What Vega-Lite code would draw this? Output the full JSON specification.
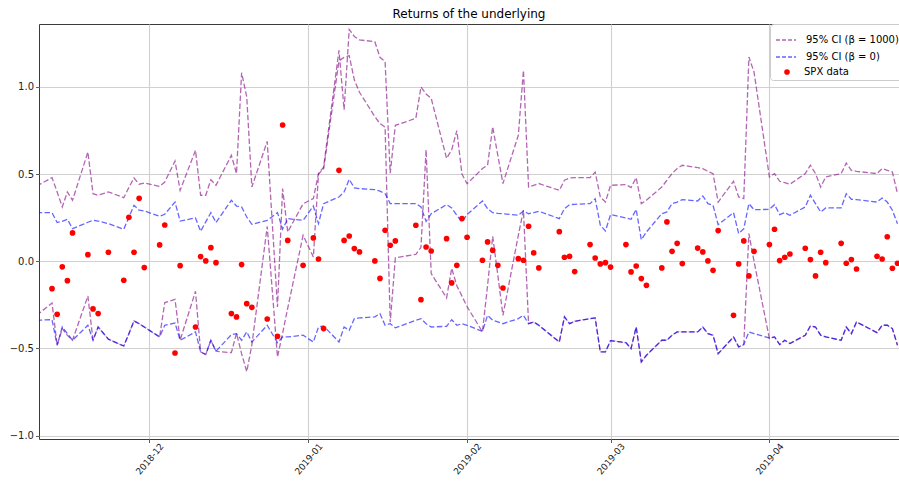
{
  "$schema": "https://vega.github.io/schema/vega-lite/v6.json",
  "autosize": {"type": "none"},
  "width": 860,
  "height": 415,
  "padding": {"left": 39, "top": 24, "right": 0, "bottom": 42},
  "background": "white",
  "title": {"text": "Returns of the underlying", "font": "DejaVu Sans", "fontSize": 12, "fontWeight": "normal", "color": "black", "offset": 3},
  "config": {
    "font": "DejaVu Sans",
    "view": {"stroke": "#3a3a3a", "strokeWidth": 1},
    "axis": {"domain": false, "grid": true, "gridColor": "#d0d0d0", "gridWidth": 1.1, "tickColor": "#333333", "tickSize": 3.5, "tickWidth": 0.8, "labelColor": "#222222", "labelFontSize": 10, "labelFont": "DejaVu Sans"}
  },
  "data": {"values": [
    {"date": "2018-11-09", "ph": 0.432, "pl": -0.310, "bh": 0.279, "bl": -0.338},
    {"date": "2018-11-12", "ph": 0.480, "pl": -0.239, "bh": 0.279, "bl": -0.335, "spx": -0.157},
    {"date": "2018-11-13", "ph": 0.398, "pl": -0.482, "bh": 0.222, "bl": -0.482, "spx": -0.304},
    {"date": "2018-11-14", "ph": 0.312, "pl": -0.386, "bh": 0.229, "bl": -0.377, "spx": -0.032},
    {"date": "2018-11-15", "ph": 0.398, "pl": -0.425, "bh": 0.241, "bl": -0.415, "spx": -0.111},
    {"date": "2018-11-16", "ph": 0.350, "pl": -0.453, "bh": 0.187, "bl": -0.453, "spx": 0.163},
    {"date": "2018-11-19", "ph": 0.627, "pl": -0.199, "bh": 0.224, "bl": -0.367, "spx": 0.038},
    {"date": "2018-11-20", "ph": 0.388, "pl": -0.453, "bh": 0.235, "bl": -0.453, "spx": -0.273},
    {"date": "2018-11-21", "ph": 0.379, "pl": -0.377, "bh": 0.231, "bl": -0.377, "spx": -0.300},
    {"date": "2018-11-23", "ph": 0.398, "pl": -0.447, "bh": 0.216, "bl": -0.447, "spx": 0.052},
    {"date": "2018-11-26", "ph": 0.365, "pl": -0.486, "bh": 0.184, "bl": -0.486, "spx": -0.109},
    {"date": "2018-11-27", "ph": 0.424, "pl": -0.415, "bh": 0.252, "bl": -0.415, "spx": 0.252},
    {"date": "2018-11-28", "ph": 0.478, "pl": -0.342, "bh": 0.321, "bl": -0.342, "spx": 0.052},
    {"date": "2018-11-29", "ph": 0.442, "pl": -0.358, "bh": 0.293, "bl": -0.358, "spx": 0.361},
    {"date": "2018-11-30", "ph": 0.449, "pl": -0.377, "bh": 0.289, "bl": -0.377, "spx": -0.036},
    {"date": "2018-12-03", "ph": 0.430, "pl": -0.434, "bh": 0.258, "bl": -0.434, "spx": 0.094},
    {"date": "2018-12-04", "ph": 0.455, "pl": -0.237, "bh": 0.270, "bl": -0.367, "spx": 0.208},
    {"date": "2018-12-06", "ph": 0.575, "pl": -0.218, "bh": 0.340, "bl": -0.354, "spx": -0.526},
    {"date": "2018-12-07", "ph": 0.407, "pl": -0.453, "bh": 0.231, "bl": -0.453, "spx": -0.025},
    {"date": "2018-12-10", "ph": 0.637, "pl": -0.172, "bh": 0.249, "bl": -0.405, "spx": -0.377},
    {"date": "2018-12-11", "ph": 0.379, "pl": -0.520, "bh": 0.172, "bl": -0.520, "spx": 0.027},
    {"date": "2018-12-12", "ph": 0.379, "pl": -0.535, "bh": 0.226, "bl": -0.535, "spx": 0.002},
    {"date": "2018-12-13", "ph": 0.468, "pl": -0.453, "bh": 0.279, "bl": -0.453, "spx": 0.078},
    {"date": "2018-12-14", "ph": 0.436, "pl": -0.516, "bh": 0.222, "bl": -0.516, "spx": -0.008},
    {"date": "2018-12-17", "ph": 0.608, "pl": -0.524, "bh": 0.350, "bl": -0.421, "spx": -0.300},
    {"date": "2018-12-18", "ph": 0.503, "pl": -0.413, "bh": 0.317, "bl": -0.415, "spx": -0.319},
    {"date": "2018-12-19", "ph": 1.082, "pl": -0.530, "bh": 0.312, "bl": -0.453, "spx": -0.019},
    {"date": "2018-12-20", "ph": 0.943, "pl": -0.633, "bh": 0.254, "bl": -0.405, "spx": -0.243},
    {"date": "2018-12-21", "ph": 0.426, "pl": -0.480, "bh": 0.212, "bl": -0.463, "spx": -0.264},
    {"date": "2018-12-24", "ph": 0.688, "pl": 0.200, "bh": 0.235, "bl": -0.367, "spx": -0.331},
    {"date": "2018-12-26", "ph": -0.262, "pl": -0.549, "bh": 0.279, "bl": -0.467, "spx": -0.430},
    {"date": "2018-12-27", "ph": 0.417, "pl": -0.413, "bh": 0.184, "bl": -0.434, "spx": 0.782},
    {"date": "2018-12-28", "ph": 0.168, "pl": -0.268, "bh": 0.245, "bl": -0.434, "spx": 0.120},
    {"date": "2018-12-31", "ph": 0.330, "pl": 0.149, "bh": 0.235, "bl": -0.424, "spx": -0.023},
    {"date": "2019-01-02", "ph": 0.360, "pl": 0.025, "bh": 0.317, "bl": -0.463, "spx": 0.134},
    {"date": "2019-01-03", "ph": 0.503, "pl": 0.500, "bh": 0.216, "bl": -0.377, "spx": 0.013},
    {"date": "2019-01-04", "ph": 0.540, "pl": 0.530, "bh": 0.331, "bl": -0.371, "spx": -0.386},
    {"date": "2019-01-07", "ph": 1.210, "pl": 1.150, "bh": 0.369, "bl": -0.463, "spx": 0.522},
    {"date": "2019-01-08", "ph": 0.870, "pl": 1.170, "bh": 0.398, "bl": -0.377, "spx": 0.120},
    {"date": "2019-01-09", "ph": 1.330, "pl": 1.180, "bh": 0.470, "bl": -0.396, "spx": 0.145},
    {"date": "2019-01-10", "ph": 1.290, "pl": 1.040, "bh": 0.421, "bl": -0.329, "spx": 0.073},
    {"date": "2019-01-11", "ph": 1.270, "pl": 0.970, "bh": 0.417, "bl": -0.325, "spx": 0.054},
    {"date": "2019-01-14", "ph": 1.260, "pl": 0.830, "bh": 0.411, "bl": -0.319, "spx": 0.002},
    {"date": "2019-01-15", "ph": 1.170, "pl": 0.790, "bh": 0.402, "bl": -0.300, "spx": -0.098},
    {"date": "2019-01-16", "ph": 1.145, "pl": 0.770, "bh": 0.388, "bl": -0.367, "spx": 0.178},
    {"date": "2019-01-17", "ph": 0.505, "pl": -0.350, "bh": 0.331, "bl": -0.358, "spx": 0.092},
    {"date": "2019-01-18", "ph": 0.780, "pl": 0.020, "bh": 0.331, "bl": -0.382, "spx": 0.117},
    {"date": "2019-01-22", "ph": 0.820, "pl": 0.040, "bh": 0.331, "bl": -0.338, "spx": 0.207},
    {"date": "2019-01-23", "ph": 1.000, "pl": 0.080, "bh": 0.312, "bl": -0.329, "spx": -0.220},
    {"date": "2019-01-24", "ph": 0.960, "pl": 0.640, "bh": 0.229, "bl": -0.358, "spx": 0.082},
    {"date": "2019-01-25", "ph": 0.935, "pl": -0.070, "bh": 0.273, "bl": -0.377, "spx": 0.059},
    {"date": "2019-01-28", "ph": 0.590, "pl": -0.210, "bh": 0.325, "bl": -0.373, "spx": 0.130},
    {"date": "2019-01-29", "ph": 0.640, "pl": -0.040, "bh": 0.306, "bl": -0.335, "spx": -0.124},
    {"date": "2019-01-30", "ph": 0.750, "pl": -0.140, "bh": 0.264, "bl": -0.367, "spx": -0.023},
    {"date": "2019-01-31", "ph": 0.500, "pl": -0.200, "bh": 0.226, "bl": -0.358, "spx": 0.245},
    {"date": "2019-02-01", "ph": 0.445, "pl": -0.260, "bh": 0.268, "bl": -0.367, "spx": 0.138},
    {"date": "2019-02-04", "ph": 0.532, "pl": -0.405, "bh": 0.346, "bl": -0.402, "spx": 0.006},
    {"date": "2019-02-05", "ph": 0.551, "pl": -0.138, "bh": 0.302, "bl": -0.310, "spx": 0.111},
    {"date": "2019-02-06", "ph": 0.771, "pl": 0.143, "bh": 0.279, "bl": -0.338, "spx": 0.063},
    {"date": "2019-02-07", "ph": 0.608, "pl": -0.080, "bh": 0.275, "bl": -0.348, "spx": -0.023},
    {"date": "2019-02-08", "ph": 0.446, "pl": -0.310, "bh": 0.273, "bl": -0.358, "spx": -0.153},
    {"date": "2019-02-11", "ph": 0.723, "pl": 0.149, "bh": 0.264, "bl": -0.329, "spx": 0.015},
    {"date": "2019-02-12", "ph": 1.096, "pl": 0.293, "bh": 0.289, "bl": -0.310, "spx": 0.006},
    {"date": "2019-02-13", "ph": 0.426, "pl": -0.358, "bh": 0.273, "bl": -0.358, "spx": 0.201},
    {"date": "2019-02-14", "ph": 0.436, "pl": -0.348, "bh": 0.279, "bl": -0.348, "spx": 0.048},
    {"date": "2019-02-15", "ph": 0.446, "pl": -0.367, "bh": 0.287, "bl": -0.367, "spx": -0.038},
    {"date": "2019-02-19", "ph": 0.407, "pl": -0.463, "bh": 0.245, "bl": -0.463, "spx": 0.170},
    {"date": "2019-02-20", "ph": 0.465, "pl": -0.319, "bh": 0.302, "bl": -0.319, "spx": 0.023},
    {"date": "2019-02-21", "ph": 0.478, "pl": -0.358, "bh": 0.325, "bl": -0.358, "spx": 0.029},
    {"date": "2019-02-22", "ph": 0.480, "pl": -0.344, "bh": 0.327, "bl": -0.344, "spx": -0.059},
    {"date": "2019-02-25", "ph": 0.480, "pl": -0.329, "bh": 0.331, "bl": -0.329, "spx": 0.096},
    {"date": "2019-02-26", "ph": 0.512, "pl": -0.325, "bh": 0.359, "bl": -0.325, "spx": 0.019},
    {"date": "2019-02-27", "ph": 0.369, "pl": -0.520, "bh": 0.207, "bl": -0.520, "spx": -0.015},
    {"date": "2019-02-28", "ph": 0.340, "pl": -0.520, "bh": 0.174, "bl": -0.520, "spx": -0.008},
    {"date": "2019-03-01", "ph": 0.436, "pl": -0.455, "bh": 0.268, "bl": -0.455, "spx": -0.033},
    {"date": "2019-03-04", "ph": 0.440, "pl": -0.467, "bh": 0.249, "bl": -0.467, "spx": 0.096},
    {"date": "2019-03-05", "ph": 0.423, "pl": -0.501, "bh": 0.241, "bl": -0.501, "spx": -0.061},
    {"date": "2019-03-06", "ph": 0.480, "pl": -0.377, "bh": 0.298, "bl": -0.377, "spx": -0.027},
    {"date": "2019-03-07", "ph": 0.331, "pl": -0.577, "bh": 0.124, "bl": -0.577, "spx": -0.099},
    {"date": "2019-03-08", "ph": 0.350, "pl": -0.539, "bh": 0.168, "bl": -0.539, "spx": -0.138},
    {"date": "2019-03-11", "ph": 0.426, "pl": -0.453, "bh": 0.273, "bl": -0.453, "spx": -0.038},
    {"date": "2019-03-12", "ph": 0.465, "pl": -0.453, "bh": 0.283, "bl": -0.453, "spx": 0.226},
    {"date": "2019-03-13", "ph": 0.503, "pl": -0.424, "bh": 0.331, "bl": -0.424, "spx": 0.057},
    {"date": "2019-03-14", "ph": 0.532, "pl": -0.405, "bh": 0.340, "bl": -0.405, "spx": 0.103},
    {"date": "2019-03-15", "ph": 0.551, "pl": -0.405, "bh": 0.354, "bl": -0.405, "spx": -0.013},
    {"date": "2019-03-18", "ph": 0.537, "pl": -0.405, "bh": 0.346, "bl": -0.405, "spx": 0.076},
    {"date": "2019-03-19", "ph": 0.532, "pl": -0.377, "bh": 0.375, "bl": -0.377, "spx": 0.054},
    {"date": "2019-03-20", "ph": 0.516, "pl": -0.415, "bh": 0.331, "bl": -0.415, "spx": 0.002},
    {"date": "2019-03-21", "ph": 0.503, "pl": -0.424, "bh": 0.321, "bl": -0.424, "spx": -0.052},
    {"date": "2019-03-22", "ph": 0.340, "pl": -0.530, "bh": 0.210, "bl": -0.530, "spx": 0.176},
    {"date": "2019-03-25", "ph": 0.459, "pl": -0.434, "bh": 0.279, "bl": -0.434, "spx": -0.310},
    {"date": "2019-03-26", "ph": 0.369, "pl": -0.491, "bh": 0.159, "bl": -0.491, "spx": -0.015},
    {"date": "2019-03-27", "ph": 0.359, "pl": -0.478, "bh": 0.187, "bl": -0.478, "spx": 0.117},
    {"date": "2019-03-28", "ph": 1.172, "pl": 0.159, "bh": 0.331, "bl": -0.405, "spx": -0.084},
    {"date": "2019-03-29", "ph": 1.086, "pl": 0.000, "bh": 0.296, "bl": -0.415, "spx": 0.057},
    {"date": "2019-04-01", "ph": 0.484, "pl": -0.444, "bh": 0.298, "bl": -0.440, "spx": 0.096},
    {"date": "2019-04-02", "ph": 0.503, "pl": -0.434, "bh": 0.325, "bl": -0.434, "spx": 0.184},
    {"date": "2019-04-03", "ph": 0.459, "pl": -0.478, "bh": 0.268, "bl": -0.478, "spx": 0.004},
    {"date": "2019-04-04", "ph": 0.451, "pl": -0.453, "bh": 0.279, "bl": -0.453, "spx": 0.023},
    {"date": "2019-04-05", "ph": 0.442, "pl": -0.472, "bh": 0.264, "bl": -0.472, "spx": 0.042},
    {"date": "2019-04-08", "ph": 0.503, "pl": -0.424, "bh": 0.312, "bl": -0.424, "spx": 0.075},
    {"date": "2019-04-09", "ph": 0.551, "pl": -0.371, "bh": 0.379, "bl": -0.371, "spx": 0.010},
    {"date": "2019-04-10", "ph": 0.503, "pl": -0.377, "bh": 0.331, "bl": -0.377, "spx": -0.084},
    {"date": "2019-04-11", "ph": 0.426, "pl": -0.424, "bh": 0.283, "bl": -0.424, "spx": 0.052},
    {"date": "2019-04-12", "ph": 0.484, "pl": -0.434, "bh": 0.306, "bl": -0.434, "spx": -0.008},
    {"date": "2019-04-15", "ph": 0.503, "pl": -0.453, "bh": 0.306, "bl": -0.453, "spx": 0.103},
    {"date": "2019-04-16", "ph": 0.564, "pl": -0.377, "bh": 0.388, "bl": -0.377, "spx": -0.011},
    {"date": "2019-04-17", "ph": 0.522, "pl": -0.415, "bh": 0.356, "bl": -0.415, "spx": 0.010},
    {"date": "2019-04-18", "ph": 0.516, "pl": -0.348, "bh": 0.354, "bl": -0.348, "spx": -0.044},
    {"date": "2019-04-22", "ph": 0.503, "pl": -0.409, "bh": 0.340, "bl": -0.409, "spx": 0.029},
    {"date": "2019-04-23", "ph": 0.532, "pl": -0.367, "bh": 0.363, "bl": -0.367, "spx": 0.013},
    {"date": "2019-04-24", "ph": 0.522, "pl": -0.367, "bh": 0.340, "bl": -0.367, "spx": 0.141},
    {"date": "2019-04-25", "ph": 0.512, "pl": -0.386, "bh": 0.293, "bl": -0.386, "spx": -0.040},
    {"date": "2019-04-26", "ph": 0.388, "pl": -0.482, "bh": 0.216, "bl": -0.482, "spx": -0.011}
  ]},
  "encoding": {
    "x": {
      "field": "date", "type": "temporal",
      "scale": {"type": "utc", "domain": [
        {"year": 2018, "month": 11, "date": 9, "hours": 11, "utc": true},
        {"year": 2019, "month": 4, "date": 26, "hours": 7, "utc": true}
      ]},
      "axis": {
        "title": null, "format": "%Y-%m",
        "values": [
          {"year": 2018, "month": 12, "date": 1, "utc": true},
          {"year": 2019, "month": 1, "date": 1, "utc": true},
          {"year": 2019, "month": 2, "date": 1, "utc": true},
          {"year": 2019, "month": 3, "date": 1, "utc": true},
          {"year": 2019, "month": 4, "date": 1, "utc": true}
        ],
        "labelAngle": -50, "labelAlign": "center", "labelBaseline": "middle", "labelPadding": 16, "labelFontSize": 9
      }
    }
  },
  "layer": [
    {
      "mark": {"type": "line", "strokeDash": [5.5, 2.4], "strokeWidth": 1.3, "opacity": 0.6, "clip": true},
      "encoding": {
        "y": {"field": "ph", "type": "quantitative",
          "scale": {"domain": [-1.0195, 1.3614], "nice": false, "zero": false},
          "axis": {"title": null, "values": [-1, -0.5, 0, 0.5, 1], "format": ".1f", "labelPadding": 2}},
        "color": {"datum": "95% CI (β = 1000)", "type": "nominal",
          "scale": {"domain": ["95% CI (β = 1000)", "95% CI (β = 0)"], "range": ["purple", "blue"]},
          "legend": {
            "title": " ", "titleOrient": "bottom", "titleFontSize": 10, "titlePadding": 3,
            "orient": "none", "legendX": 731, "legendY": 0,
            "fillColor": "rgba(255,255,255,0.8)", "strokeColor": "#cccccc", "cornerRadius": 3, "padding": 5,
            "labelFont": "DejaVu Sans", "labelFontSize": 10, "labelColor": "black", "labelOffset": 9,
            "symbolType": "stroke", "symbolSize": 400, "symbolStrokeWidth": 1.3, "symbolDash": [4, 2], "rowPadding": 1
          }}
      }
    },
    {
      "mark": {"type": "line", "strokeDash": [5.5, 2.4], "strokeWidth": 1.3, "opacity": 0.6, "clip": true},
      "encoding": {
        "y": {"field": "pl", "type": "quantitative"},
        "color": {"datum": "95% CI (β = 1000)", "type": "nominal"}
      }
    },
    {
      "mark": {"type": "line", "strokeDash": [5.5, 2.4], "strokeWidth": 1.3, "opacity": 0.6, "clip": true},
      "encoding": {
        "y": {"field": "bh", "type": "quantitative"},
        "color": {"datum": "95% CI (β = 0)", "type": "nominal"}
      }
    },
    {
      "mark": {"type": "line", "strokeDash": [5.5, 2.4], "strokeWidth": 1.3, "opacity": 0.6, "clip": true},
      "encoding": {
        "y": {"field": "bl", "type": "quantitative"},
        "color": {"datum": "95% CI (β = 0)", "type": "nominal"}
      }
    },
    {
      "mark": {"type": "circle", "size": 32, "opacity": 1, "clip": true},
      "encoding": {
        "y": {"field": "spx", "type": "quantitative"},
        "fill": {"datum": "SPX data", "type": "nominal",
          "scale": {"domain": ["SPX data"], "range": ["red"]},
          "legend": {
            "title": null, "orient": "none", "legendX": 738, "legendY": 38,
            "padding": 5, "labelFont": "DejaVu Sans", "labelFontSize": 10, "labelColor": "black", "labelOffset": 12,
            "symbolType": "circle", "symbolSize": 32, "symbolStrokeWidth": 0, "symbolOpacity": 1
          }}
      }
    }
  ]
}
